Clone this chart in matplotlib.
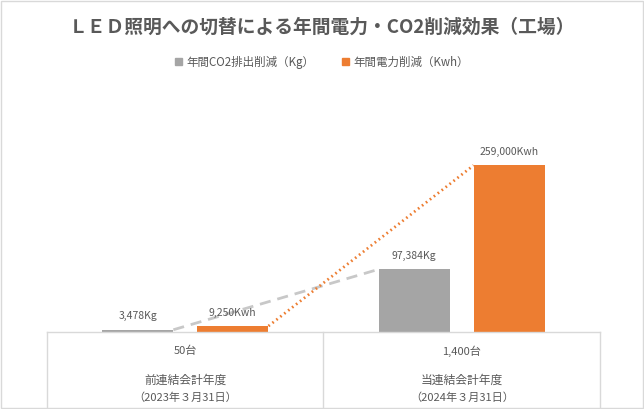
import matplotlib
matplotlib.use("Agg")
import matplotlib.pyplot as plt
from matplotlib.lines import Line2D
from matplotlib.patches import Rectangle

plt.rcParams['font.family'] = ['Noto Sans CJK JP', 'DejaVu Sans']

# ---- data ----
categories_units = ["50台", "1,400台"]
categories_period = ["前連結会計年度", "当連結会計年度"]
categories_date = ["（2023年３月31日）", "（2024年３月31日）"]
series_names = ["年間CO2排出削減（Kg）", "年間電力削減（Kwh）"]
co2_values = [3478, 97384]
power_values = [9250, 259000]
co2_labels = ["3,478Kg", "97,384Kg"]
power_labels = ["9,250Kwh", "259,000Kwh"]
title = "ＬＥＤ照明への切替による年間電力・CO2削減効果（工場）"

GRAY = "#A5A5A5"
ORANGE = "#ED7D31"
TXT = "#595959"
GRID = "#D9D9D9"

W, H = 644, 409
fig = plt.figure(figsize=(W / 100, H / 100), dpi=100)

def fx(px):
    return px / W

def fy(py):
    return 1 - py / H

ax_left, ax_right, ax_top, ax_bottom = 47, 600, 90, 332
ax = fig.add_axes([fx(ax_left), fy(ax_bottom), fx(ax_right - ax_left), (ax_bottom - ax_top) / H])
ax.set_xlim(-0.5, 1.5)
ax.set_ylim(0, 376000)
ax.axis('off')

x = [0, 1]
bw = 0.258
off = 0.172
gx = [xi - off for xi in x]
ox = [xi + off for xi in x]
ax.bar(gx, co2_values, width=bw, color=GRAY, label=series_names[0], zorder=3)
ax.bar(ox, power_values, width=bw, color=ORANGE, label=series_names[1], zorder=3)

# series lines
ax.plot([gx[0] + bw / 2, gx[1] - bw / 2], co2_values, color="#C8C8C8", lw=2,
        linestyle=(0, (4, 2.5)), zorder=2)
ax.plot([ox[0] + bw / 2, ox[1] - bw / 2], power_values, color=ORANGE, lw=2,
        linestyle=(0, (0.6, 1.2)), zorder=2)

# data labels
for xi, v, lab in zip(gx, co2_values, co2_labels):
    ax.annotate(lab, (xi, v), xytext=(0, 6), textcoords='offset points', ha='center',
                va='bottom', fontsize=7.5, color=TXT)
for xi, v, lab in zip(ox, power_values, power_labels):
    ax.annotate(lab, (xi, v), xytext=(0, 6), textcoords='offset points', ha='center',
                va='bottom', fontsize=7.5, color=TXT)

# category table
for px in [ax_left, 323, ax_right]:
    fig.add_artist(Line2D([fx(px), fx(px)], [fy(ax_bottom), fy(H + 2)], color=GRID, lw=1))
fig.add_artist(Line2D([fx(ax_left), fx(ax_right)], [fy(ax_bottom), fy(ax_bottom)], color=GRID, lw=1))

for i in range(2):
    cx = ax.transData.transform((x[i], 0))[0] / W
    fig.text(cx, fy(351), categories_units[i], ha='center', va='center', fontsize=8, color=TXT)
    fig.text(cx, fy(380), categories_period[i], ha='center', va='center', fontsize=8.5, color=TXT)
    fig.text(cx, fy(398), categories_date[i], ha='center', va='center', fontsize=8, color=TXT)

# title
fig.text(0.5, fy(27), title, ha='center', va='center', fontsize=13.5, color=TXT, fontweight='bold')

# legend
fig.legend(handles=[Rectangle((0, 0), 1, 1, color=GRAY), Rectangle((0, 0), 1, 1, color=ORANGE)],
           labels=series_names, loc='center', bbox_to_anchor=(0.5, fy(62)), ncol=2,
           frameon=False, fontsize=8.3, labelcolor=TXT, handlelength=0.6, handleheight=0.6,
           handletextpad=0.35, columnspacing=2.4)

# outer frame
fig.add_artist(Rectangle((0.5 / W, 1 - 407.5 / H), (W - 1.5) / W, 407 / H, fill=False,
                         edgecolor=GRID, lw=1))

fig.savefig("out.png", dpi=100, facecolor='white')
